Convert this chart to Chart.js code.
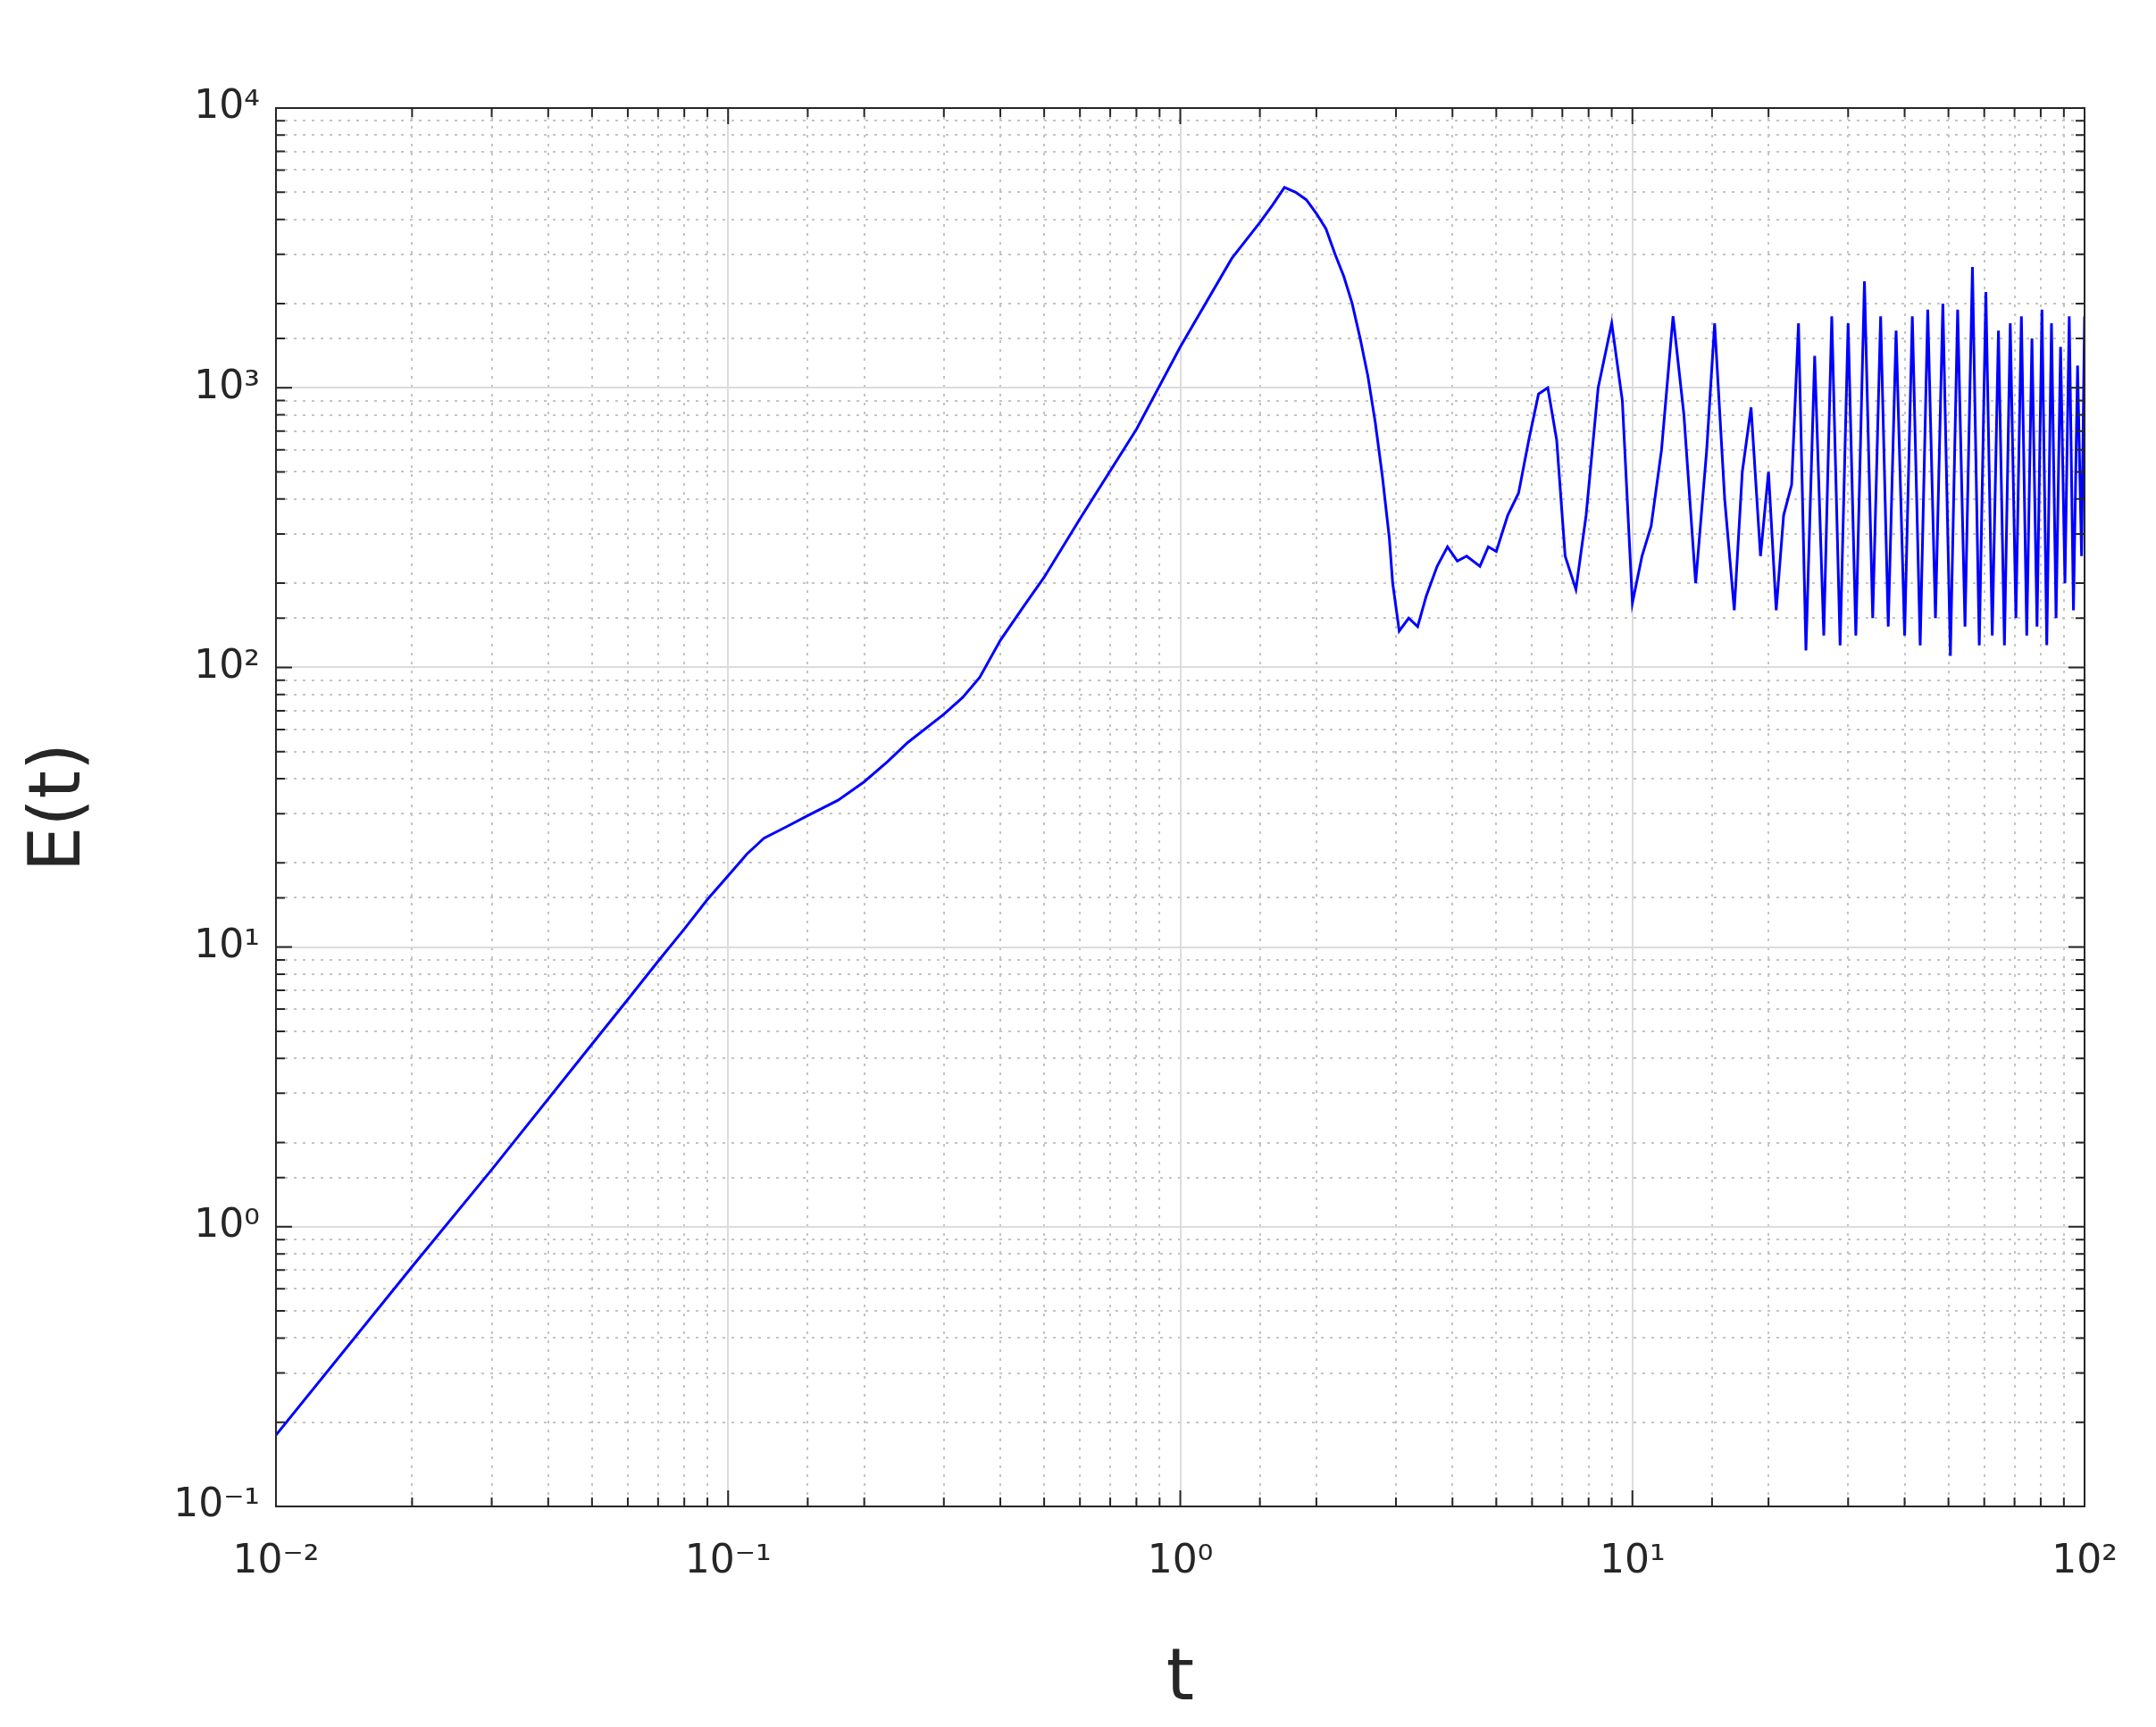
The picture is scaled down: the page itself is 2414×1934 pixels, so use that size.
<!DOCTYPE html>
<html>
<head>
<meta charset="utf-8">
<script src="https://cdn.jsdelivr.net/npm/chart.js@4/dist/chart.umd.min.js"></script>
<style>
html, body { margin: 0; padding: 0; background: #fff; }
#wrap { width: 2414px; height: 1934px; }
</style>
</head>
<body>
<div id="wrap"><canvas id="energy"></canvas></div>
<script>
// t values and E(t)
const tValues = [0.01, 0.02, 0.03, 0.05, 0.06, 0.07, 0.08, 0.09, 0.1, 0.11, 0.12, 0.135, 0.15, 0.175, 0.2, 0.225, 0.25, 0.3, 0.33, 0.36, 0.4, 0.45, 0.5, 0.6, 0.8, 1.0, 1.3, 1.5, 1.6, 1.7, 1.8, 1.9, 2.0, 2.1, 2.2, 2.3, 2.4, 2.5, 2.6, 2.7, 2.8, 2.9, 2.95, 3.05, 3.2, 3.35, 3.5, 3.7, 3.9, 4.1, 4.3, 4.6, 4.8, 5.0, 5.3, 5.6, 5.9, 6.2, 6.5, 6.8, 7.1, 7.5, 7.9, 8.4, 9.0, 9.5, 10.0, 10.5, 11.0, 11.6, 12.3, 13.0, 13.8, 14.6, 15.2, 16.0, 16.8, 17.5, 18.3, 19.2, 20.0, 20.8, 21.6, 22.5, 23.3, 24.2, 25.3, 26.5, 27.6, 28.8, 30.0, 31.2, 32.6, 34.0, 35.4, 36.8, 38.3, 40.0, 41.6, 43.3, 45.0, 46.8, 48.6, 50.5, 52.4, 54.4, 56.5, 58.5, 60.5, 62.5, 64.5, 66.5, 68.5, 70.5, 72.5, 74.5, 76.5, 78.5, 80.5, 82.5, 84.5, 86.5, 88.5, 90.5, 92.5, 94.5, 96.5, 98.5, 100];
const energyValues = [0.18, 0.72, 1.6, 4.5, 6.5, 8.9, 11.6, 14.8, 18, 21.5, 24.5, 27, 29.5, 33.5, 39, 46, 54, 68, 78, 92, 125, 165, 210, 340, 710, 1400, 2900, 3900, 4500, 5200, 5000, 4700, 4200, 3700, 3000, 2500, 2000, 1500, 1100, 750, 480, 290, 200, 135, 150, 140, 180, 230, 270, 240, 250, 230, 270, 260, 350, 420, 650, 950, 1000, 650, 250, 190, 350, 1000, 1700, 900, 170, 250, 320, 600, 1800, 800, 200, 600, 1700, 400, 160, 500, 850, 250, 500, 160, 350, 450, 1700, 115, 1300, 130, 1800, 120, 1700, 130, 2400, 150, 1800, 140, 1600, 130, 1800, 120, 1900, 150, 2000, 110, 1900, 140, 2700, 120, 2200, 130, 1600, 120, 1700, 150, 1800, 130, 1500, 140, 1900, 120, 1700, 150, 1400, 200, 1800, 160, 1200, 250, 1800];
const xTickPowers = [-2, -1, 0, 1, 2];
const yTickPowers = [-1, 0, 1, 2, 3, 4];

const sup = { '-': '\u207B', '0': '\u2070', '1': '\u00B9', '2': '\u00B2', '3': '\u00B3', '4': '\u2074' };
function powLabel(p) {
    return '10' + String(p).split('').map(c => sup[c]).join('');
}
function isPow10(v) {
    let l = Math.log10(v);
    return Math.abs(l - Math.round(l)) < 1e-6;
}

const points = tValues.map((t, i) => ({ x: t, y: energyValues[i] }));
const tickFont = { family: 'DejaVu Sans', size: 44 };

const framePlugin = {
    id: 'frame',
    afterDraw(chart) {
        let a = chart.chartArea;
        let ctx = chart.ctx;
        ctx.save();
        ctx.strokeStyle = '#262626';
        ctx.lineWidth = 2;
        ctx.strokeRect(a.left, a.top, a.right - a.left, a.bottom - a.top);
        for (let t of chart.scales.xm.ticks) {
            let px = chart.scales.xm.getPixelForValue(t.value);
            let len = isPow10(t.value) ? 18 : 10;
            ctx.beginPath();
            ctx.moveTo(px, a.bottom); ctx.lineTo(px, a.bottom - len);
            ctx.moveTo(px, a.top); ctx.lineTo(px, a.top + len);
            ctx.stroke();
        }
        for (let t of chart.scales.ym.ticks) {
            let py = chart.scales.ym.getPixelForValue(t.value);
            let len = isPow10(t.value) ? 18 : 10;
            ctx.beginPath();
            ctx.moveTo(a.left, py); ctx.lineTo(a.left + len, py);
            ctx.moveTo(a.right, py); ctx.lineTo(a.right - len, py);
            ctx.stroke();
        }
        ctx.restore();
    }
};

let ctx = document.getElementById('energy').getContext('2d');
new Chart(ctx, {
    type: 'scatter',
    data: {
        datasets: [{
            data: points,
            showLine: true,
            borderColor: '#0000ff',
            borderWidth: 3,
            pointRadius: 0,
            xAxisID: 'x',
            yAxisID: 'y'
        }]
    },
    options: {
        responsive: true,
        maintainAspectRatio: false,
        animation: false,
        devicePixelRatio: 1,
        layout: { padding: { top: 121, right: 80 } },
        plugins: { legend: { display: false }, tooltip: { enabled: false } },
        scales: {
            xm: {
                type: 'logarithmic', min: 0.01, max: 100, position: 'bottom',
                ticks: { display: false },
                grid: { color: ctx => isPow10(ctx.tick.value) ? 'rgba(0,0,0,0)' : '#c4c4c4', lineWidth: 2, drawTicks: false },
                border: { display: false, dash: [3, 7] },
                afterFit: s => { s.height = 0; }
            },
            ym: {
                type: 'logarithmic', min: 0.1, max: 10000, position: 'left',
                ticks: { display: false },
                grid: { color: ctx => isPow10(ctx.tick.value) ? 'rgba(0,0,0,0)' : '#c4c4c4', lineWidth: 2, drawTicks: false },
                border: { display: false, dash: [3, 7] },
                afterFit: s => { s.width = 0; }
            },
            x: {
                type: 'logarithmic', min: 0.01, max: 100, position: 'bottom',
                afterBuildTicks: s => { s.ticks = xTickPowers.map(p => ({ value: Math.pow(10, p) })); },
                ticks: {
                    callback: v => powLabel(Math.round(Math.log10(v))),
                    font: tickFont, color: '#262626', maxRotation: 0, padding: 36
                },
                grid: { color: '#dcdcdc', lineWidth: 2, drawTicks: false },
                border: { display: false },
                title: { display: true, text: 't', font: { family: 'DejaVu Sans', size: 80 }, color: '#262626', padding: { top: 0 } },
                afterFit: s => { s.height = 247; }
            },
            y: {
                type: 'logarithmic', min: 0.1, max: 10000, position: 'left',
                afterBuildTicks: s => { s.ticks = yTickPowers.map(p => ({ value: Math.pow(10, p) })); },
                ticks: {
                    callback: v => powLabel(Math.round(Math.log10(v))),
                    font: tickFont, color: '#262626', padding: 18
                },
                grid: { color: '#dcdcdc', lineWidth: 2, drawTicks: false },
                border: { display: false },
                title: { display: true, text: 'E(t)', font: { family: 'DejaVu Sans', size: 80 }, color: '#262626', padding: { top: 20, bottom: 10 } },
                afterFit: s => { s.width = 309; }
            }
        }
    },
    plugins: [framePlugin]
});
</script>
</body>
</html>
